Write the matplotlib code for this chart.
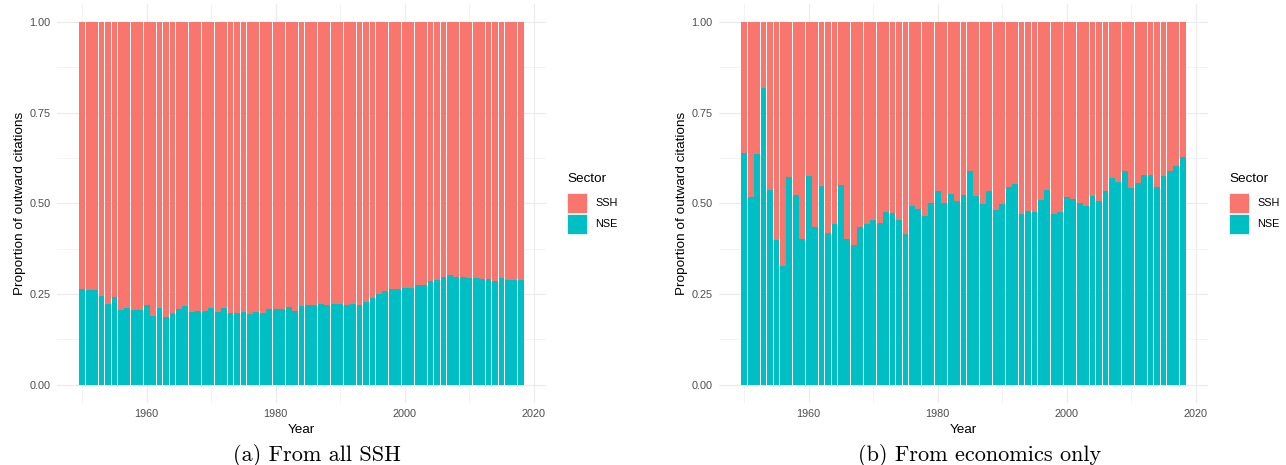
import matplotlib
matplotlib.use("Agg")
import matplotlib.pyplot as plt
from matplotlib.patches import Rectangle
import numpy as np

years = list(range(1950, 2019))

# NSE share of outward citations
nse_all = [0.264, 0.262, 0.262, 0.246, 0.224, 0.242, 0.207, 0.211, 0.207, 0.207,
           0.220, 0.190, 0.213, 0.187, 0.198, 0.209, 0.218, 0.202, 0.204, 0.204,
           0.212, 0.201, 0.213, 0.199, 0.198, 0.202, 0.196, 0.201, 0.198, 0.208,
           0.208, 0.208, 0.215, 0.204, 0.218, 0.219, 0.219, 0.223, 0.221, 0.223,
           0.223, 0.221, 0.223, 0.221, 0.229, 0.240, 0.250, 0.258, 0.264, 0.264,
           0.267, 0.266, 0.276, 0.275, 0.286, 0.290, 0.296, 0.303, 0.298, 0.298,
           0.295, 0.295, 0.292, 0.292, 0.287, 0.295, 0.289, 0.290, 0.289]

nse_econ = [0.638, 0.519, 0.636, 0.818, 0.538, 0.399, 0.328, 0.573, 0.522, 0.403,
            0.575, 0.434, 0.547, 0.418, 0.444, 0.550, 0.403, 0.386, 0.434, 0.442,
            0.454, 0.446, 0.477, 0.473, 0.455, 0.417, 0.494, 0.485, 0.466, 0.500,
            0.534, 0.501, 0.526, 0.506, 0.523, 0.590, 0.521, 0.499, 0.533, 0.482,
            0.499, 0.545, 0.554, 0.470, 0.479, 0.477, 0.510, 0.538, 0.471, 0.476,
            0.519, 0.512, 0.500, 0.494, 0.521, 0.508, 0.534, 0.571, 0.560, 0.590,
            0.543, 0.555, 0.577, 0.578, 0.545, 0.575, 0.590, 0.603, 0.628]

sectors = ["SSH", "NSE"]
captions = ["(a) From all SSH", "(b) From economics only"]

col_ssh = "#F8766D"
col_nse = "#00BFC4"
grid_col = "#EBEBEB"
txt_grey = "#4D4D4D"
font = ["Liberation Sans", "DejaVu Sans"]

W, H = 1286, 465
fig = plt.figure(figsize=(W / 100, H / 100), dpi=100)


def fx(px):
    return px / W


def fy(py):
    return 1 - py / H


def panel(left_px, nse, caption, cap_x, ylab_x, leg_x):
    ax = fig.add_axes([fx(left_px), fy(403), fx(489), (403 - 3.85) / H])
    ssh = 1 - np.array(nse)
    ax.bar(years, nse, width=0.9, color=col_nse, zorder=2)
    ax.bar(years, ssh, width=0.9, bottom=nse, color=col_ssh, zorder=2)
    ax.set_xlim(1946.1, 2021.9)
    ax.set_ylim(-0.05, 1.05)
    ax.set_xticks([1960, 1980, 2000, 2020])
    ax.set_xticks([1950, 1970, 1990, 2010], minor=True)
    ax.set_yticks([0, 0.25, 0.5, 0.75, 1.0])
    ax.set_yticks([0.125, 0.375, 0.625, 0.875], minor=True)
    ax.set_yticklabels(["0.00", "0.25", "0.50", "0.75", "1.00"])
    ax.grid(which="major", color=grid_col, lw=0.8, zorder=0)
    ax.grid(which="minor", color=grid_col, lw=0.4, zorder=0)
    ax.set_axisbelow(True)
    for s in ax.spines.values():
        s.set_visible(False)
    ax.tick_params(which="both", length=0)
    ax.tick_params(axis="x", pad=4, labelsize=7.8, labelcolor=txt_grey)
    ax.tick_params(axis="y", pad=4.5, labelsize=7.8, labelcolor=txt_grey)
    for lab in ax.get_xticklabels() + ax.get_yticklabels():
        lab.set_family(font)

    ax.set_xlabel("Year", fontsize=9.7, family=font)
    ax.xaxis.set_label_coords(0.5, (403 - 430) / 399.15)
    ax.xaxis.label.set_va("center")
    ax.set_ylabel("Proportion of outward citations", fontsize=9.7, family=font)
    ax.yaxis.set_label_coords((ylab_x - left_px) / 489, 0.5)
    ax.yaxis.label.set_va("center")

    # legend, drawn by hand like ggplot's guide
    fig.text(fx(leg_x), fy(179), "Sector", fontsize=9.7, family=font,
             ha="left", va="center")
    for i, (name, c) in enumerate(zip(sectors, [col_ssh, col_nse])):
        top = 193 + i * 21
        fig.add_artist(Rectangle((fx(leg_x), fy(top + 19.5)), fx(20), 19.5 / H,
                                 transform=fig.transFigure, facecolor=c,
                                 edgecolor="white", lw=0.5))
        fig.text(fx(leg_x + 28), fy(top + 10), name, fontsize=7.8, family=font,
                 ha="left", va="center")

    fig.text(fx(cap_x), fy(455), caption, fontsize=16,
             family=["cmr10", "DejaVu Serif"], ha="center", va="center")
    return ax


panel(57, nse_all, captions[0], 317, 20, 567)
panel(719, nse_econ, captions[1], 980, 682, 1229)

fig.savefig("out.png", dpi=100)
